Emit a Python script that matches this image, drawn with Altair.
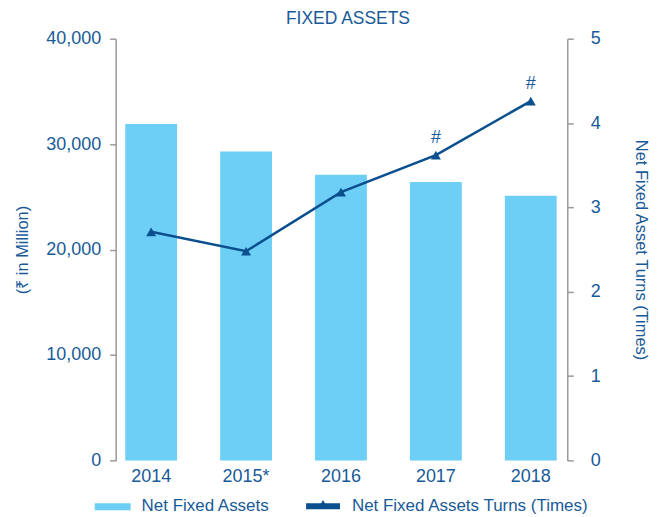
import altair as alt
import pandas as pd

years = ["2014", "2015*", "2016", "2017", "2018"]
net_fixed_assets = [31900, 29300, 27100, 26400, 25100]
turns = [2.71, 2.48, 3.18, 3.62, 4.26]
marks_text = ["", "", "", "#", "#"]

df = pd.DataFrame({"year": years, "nfa": net_fixed_assets, "turns": turns, "mark": marks_text})

TXT = "#185a98"
BAR = "#6dcff6"
LINE = "#0b4f8f"
GREY = "#999999"
FONT = "Liberation Sans"

W, H = 476, 423

x = alt.X("year:N", sort=years,
          scale=alt.Scale(paddingInner=0.454, paddingOuter=0.227),
          axis=alt.Axis(title=None, domain=False, ticks=False, labelAngle=0,
                        labelFontSize=18, labelColor=TXT, labelFont=FONT, labelPadding=7))

bars = alt.Chart(df).mark_bar(color=BAR).encode(
    x=x,
    y=alt.Y("nfa:Q", scale=alt.Scale(domain=[0, 40000]),
            axis=alt.Axis(title="(₹ in Million)", values=[0, 10000, 20000, 30000, 40000],
                          labelExpr="format(datum.value, ',')", grid=False, offset=-12,
                          domainColor=GREY, domainWidth=1.5,
                          tickColor=GREY, tickWidth=1.5, tickSize=6, labelFontSize=18,
                          labelColor=TXT, labelFont=FONT, labelPadding=9,
                          titleFontSize=16.5, titleFont=FONT, titleColor=TXT,
                          titleFontWeight="normal", titlePadding=15))
)

yr = alt.Y("turns:Q", scale=alt.Scale(domain=[0, 5]),
           axis=alt.Axis(title="Net Fixed Asset Turns (Times)", orient="right",
                         values=[0, 1, 2, 3, 4, 5], grid=False, offset=-11,
                         domainColor=GREY, domainWidth=1.5, tickColor=GREY, tickWidth=1.5,
                         tickSize=6, labelFontSize=18, labelColor=TXT, labelFont=FONT,
                         labelPadding=17, titleFontSize=16.5, titleFont=FONT, titleColor=TXT,
                         titleFontWeight="normal", titlePadding=32))

line = alt.Chart(df).mark_line(color=LINE, strokeWidth=2.5).encode(x=x, y=yr)
pts = alt.Chart(df).mark_point(shape="triangle-up", filled=True, opacity=1, color=LINE, size=100).encode(x=x, y=yr)
hash_txt = alt.Chart(df).mark_text(color=TXT, fontSize=18, font=FONT, dy=-17).encode(
    x=x, y=yr, text="mark:N")

# title and manual legend
leg = pd.DataFrame({"k": [0]})
title_txt = alt.Chart(leg).mark_text(text="FIXED ASSETS", align="center", baseline="middle",
                                     fontSize=17.5, font=FONT, color=TXT).encode(
    x=alt.value(245), y=alt.value(-20))
leg_bar = alt.Chart(leg).mark_rect(color=BAR).encode(
    x=alt.value(-9), x2=alt.value(27), y=alt.value(466), y2=alt.value(473))
leg_bar_txt = alt.Chart(leg).mark_text(text="Net Fixed Assets", align="left", baseline="middle",
                                       fontSize=17, font=FONT, color=TXT).encode(
    x=alt.value(38), y=alt.value(469))
leg_line = alt.Chart(leg).mark_rule(color=LINE, strokeWidth=6).encode(
    x=alt.value(203), x2=alt.value(237), y=alt.value(469))
leg_tri = alt.Chart(leg).mark_point(shape="triangle-up", filled=True, opacity=1, color=LINE, size=100).encode(
    x=alt.value(220), y=alt.value(467))
leg_line_txt = alt.Chart(leg).mark_text(text="Net Fixed Assets Turns (Times)", align="left",
                                        baseline="middle", fontSize=17, font=FONT, color=TXT).encode(
    x=alt.value(249), y=alt.value(469))

right = alt.layer(line, pts, hash_txt)

chart = alt.layer(bars, right, title_txt, leg_bar, leg_bar_txt, leg_line, leg_tri, leg_line_txt).resolve_scale(
    y="independent"
).properties(
    width=W, height=H,
    autosize=alt.AutoSizeParams(type="none"),
    padding={"left": 96, "top": 30, "right": 75, "bottom": 54},
).configure_view(stroke=None)

chart.save("out.html", embed_options={"renderer": "svg", "actions": False})
